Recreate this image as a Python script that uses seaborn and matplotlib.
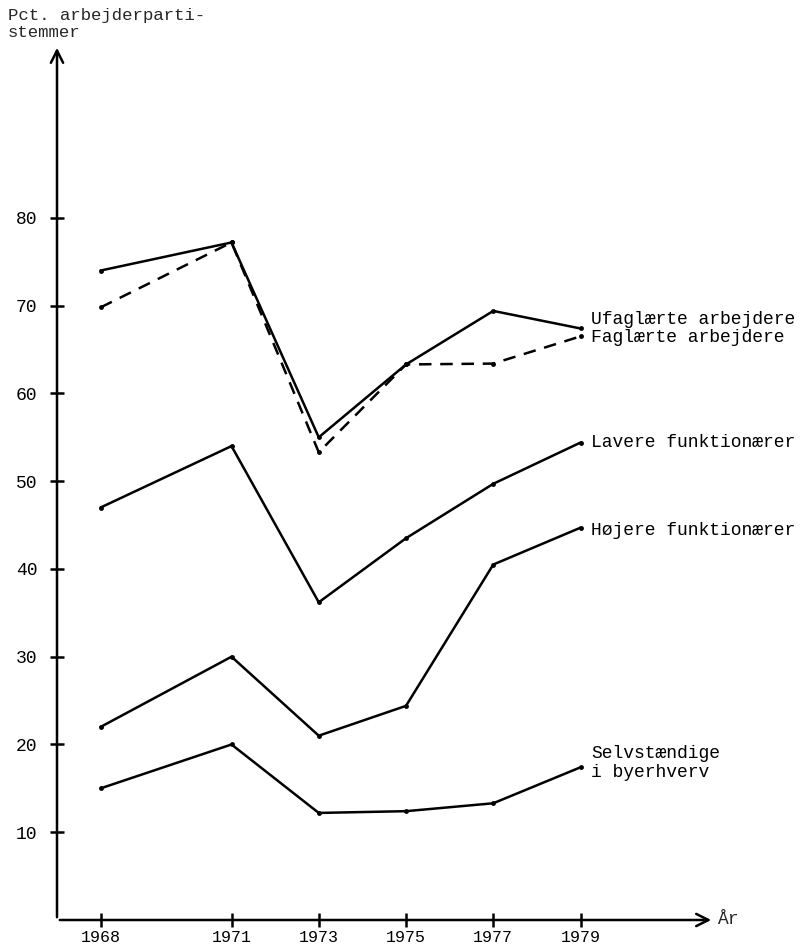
import pandas as pd
import matplotlib
matplotlib.use("Agg")
import matplotlib.pyplot as plt
import seaborn as sns

years = [1968, 1971, 1973, 1975, 1977, 1979]
ufaglaerte = [74.0, 77.2, 55.0, 63.3, 69.4, 67.4]
faglaerte = [69.8, 77.2, 53.3, 63.3, 63.4, 66.5]
lavere = [47.0, 54.0, 36.2, 43.5, 49.7, 54.4]
hojere = [22.0, 30.0, 21.0, 24.4, 40.5, 44.7]
selvst = [15.0, 20.0, 12.2, 12.4, 13.3, 17.4]

series_names = ["Ufaglærte arbejdere", "Faglærte arbejdere", "Lavere funktionærer",
                "Højere funktionærer", "Selvstændige\ni byerhverv"]
series_values = [ufaglaerte, faglaerte, lavere, hojere, selvst]
y_ticks = [10, 20, 30, 40, 50, 60, 70, 80]

rows = []
for name, vals in zip(series_names, series_values):
    for yr, v in zip(years, vals):
        rows.append({"group": name, "year": yr, "pct": v})
df = pd.DataFrame(rows)

sns.set_theme(style="white")
mono = "Liberation Mono"
plt.rcParams["font.family"] = [mono, "DejaVu Sans Mono"]

fig = plt.figure(figsize=(8.05, 9.51), dpi=100)
ax = fig.add_axes([57 / 805, 31 / 951, (714 - 57) / 805, (920 - 45) / 951])

for name in series_names:
    sub = df[df["group"] == name]
    dashed = name.startswith("Faglærte")
    sns.lineplot(data=sub, x="year", y="pct", ax=ax, color="black", lw=1.8,
                 marker="o", markersize=3.5, markeredgewidth=0,
                 estimator=None, legend=False,
                 linestyle=(0, (5, 3.5)) if dashed else "-")

ax.set_xlim(1967.0, 1982.06)
ax.set_ylim(0, 99.7)
for s in ax.spines.values():
    s.set_visible(False)

# arrow axes
ax.annotate("", xy=(1, 0), xytext=(0, 0), xycoords="axes fraction",
            arrowprops=dict(arrowstyle="->", lw=1.8, color="black", mutation_scale=22))
ax.annotate("", xy=(0, 1), xytext=(0, 0), xycoords="axes fraction",
            arrowprops=dict(arrowstyle="->", lw=1.8, color="black", mutation_scale=22))

ax.set_xticks(years)
ax.set_xticklabels([str(y) for y in years])
ax.set_yticks(y_ticks)
ax.set_yticklabels([str(t) for t in y_ticks])
ax.tick_params(axis="both", direction="inout", length=10, width=1.8, color="black",
               labelsize=13, labelcolor="black", bottom=True, left=True)
ax.tick_params(axis="y", pad=9)
ax.tick_params(axis="x", pad=2, labelsize=12)
ax.set_xlabel("")
ax.set_ylabel("")

label_x = 1979.25
label_y = [68.4, 66.4, 54.4, 44.4, 17.9]
for name, ly in zip(series_names, label_y):
    ax.text(label_x, ly, name, fontsize=13, va="center", ha="left",
            color="black", linespacing=1.15)

ax.text(1.005, 0, "År", transform=ax.transAxes, fontsize=13, va="center", ha="left")
fig.text(8 / 805, 1 - 8 / 951, "Pct. arbejderparti-\nstemmer", fontsize=12.5,
         va="top", ha="left", linespacing=1.2)

fig.savefig("out.png", dpi=100)
